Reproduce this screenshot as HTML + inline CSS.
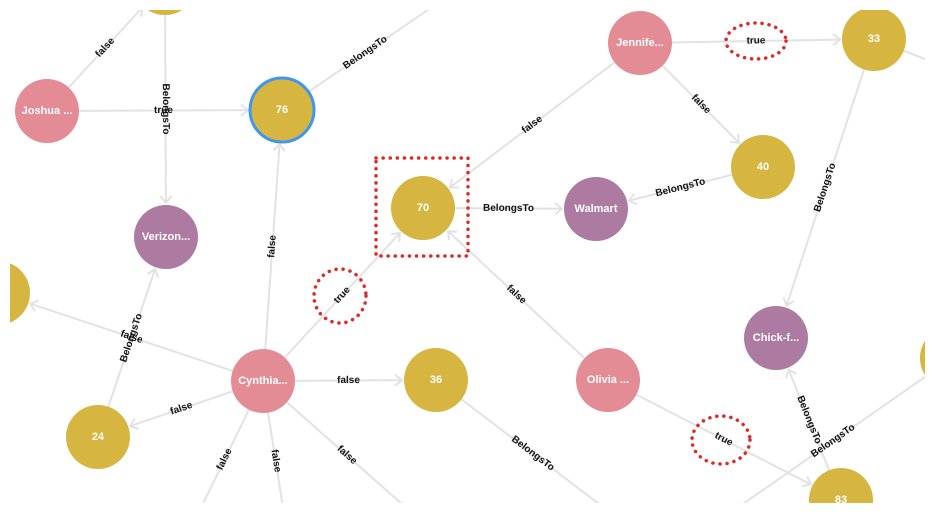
<!DOCTYPE html>
<html><head><meta charset="utf-8"><style>
html,body{margin:0;padding:0;background:#fff;width:935px;height:514px;overflow:hidden}
svg{display:block}
text{font-family:"Liberation Sans",Arial,sans-serif;font-weight:bold}
</style></head><body>
<svg id="s" width="935" height="514" viewBox="0 0 935 514">
<defs><clipPath id="c"><rect x="10" y="10" width="915" height="493"/></clipPath></defs>
<g id="g" clip-path="url(#c)"></g>
</svg>
<script>
const G='#D6B541',P='#E48C96',U='#AD7BA1';
const N={
top:[165,-17,G,''],jos:[47,111,P,'Joshua ...'],n76:[282,110,G,'76'],ver:[166,237,U,'Verizon...'],
n70:[423,208,G,'70'],wal:[596,209,U,'Walmart'],jen:[640,43,P,'Jennife...'],n33:[874,39,G,'33'],
n40:[763,167,G,'40'],chi:[776,338,U,'Chick-f...'],lg:[-2,293,G,''],cyn:[263,381,P,'Cynthia...'],
n36:[436,380,G,'36'],n24:[98,437,G,'24'],oli:[608,380,P,'Olivia ...'],n83:[841,500,G,'83'],rg:[952,358,G,'']};
const pts={a:[435,5],b:[195,520],c:[285,520],d:[420,520],e:[620,520],f:[940,65],g:[720,520]};
const E=[['jos','top','false',1],['top','ver','BelongsTo',1],['jos','n76','true',1],['n76','a','BelongsTo',0],
['cyn','n76','false',1],['cyn','n70','true',1],['cyn','lg','false',1],['n24','ver','BelongsTo',1],
['cyn','n24','false',1],['cyn','n36','false',1],['cyn','b','false',0],['cyn','c','false',0],['cyn','d','false',0],
['n36','e','BelongsTo',0],['jen','n70','false',1],['jen','n33','true',1],['jen','n40','false',1],
['n70','wal','BelongsTo',1],['n40','wal','BelongsTo',1],['n33','chi','BelongsTo',1],['n33','f','',0],
['oli','n70','false',1],['oli','n83','true',1],['n83','chi','BelongsTo',1],['rg','g','BelongsTo',0]];
const g=document.getElementById('g');let h='';const R=32;
function P_(k){return N[k]?N[k]:pts[k];}
let labels='';
for(const [a,b,l,arr] of E){
 const A=P_(a),B=P_(b);let dx=B[0]-A[0],dy=B[1]-A[1],L=Math.hypot(dx,dy),ux=dx/L,uy=dy/L;
 const x1=A[0]+ux*R,y1=A[1]+uy*R,x2=N[b]?B[0]-ux*(R+2):B[0],y2=N[b]?B[1]-uy*(R+2):B[1];
 h+=`<line x1="${x1}" y1="${y1}" x2="${x2}" y2="${y2}" stroke="#e2e2e2" stroke-width="2"/>`;
 if(arr){const s=7,px=-uy,py=ux;h+=`<polyline points="${x2-ux*s+px*s*0.8},${y2-uy*s+py*s*0.8} ${x2},${y2} ${x2-ux*s-px*s*0.8},${y2-uy*s-py*s*0.8}" fill="none" stroke="#e2e2e2" stroke-width="2"/>`;}
 if(l){let mx=(x1+x2)/2,my=(y1+y2)/2;if(!N[b]){mx=x1+(x2-x1)*0.45;my=y1+(y2-y1)*0.45;}
  let ang=Math.atan2(dy,dx)*180/Math.PI;if(ang>90)ang-=180;if(ang<-90)ang+=180;
  labels+=`<text x="${mx}" y="${my}" font-size="10" text-anchor="middle" dominant-baseline="central" transform="rotate(${ang} ${mx} ${my})" fill="#111">${l}</text>`;}
}
h+=labels;
for(const k in N){const [x,y,c,t]=N[k];
 h+=`<circle cx="${x}" cy="${y}" r="${R}" fill="${c}"${k=='n76'?' stroke="#3D97F0" stroke-width="3"':''}/>`;
 if(t)h+=`<text x="${x}" y="${y}" font-size="11" fill="#fff" text-anchor="middle" dominant-baseline="central">${t}</text>`;}
h+=`<rect x="376" y="158" width="92" height="98" fill="none" stroke="#e02828" stroke-width="3.5" stroke-dasharray="0.1 7" stroke-linecap="round"/>`;
h+=`<ellipse cx="340" cy="296" rx="26" ry="27" fill="none" stroke="#e02828" stroke-width="3.5" stroke-dasharray="0.1 7" stroke-linecap="round"/>`;
h+=`<ellipse cx="756" cy="41" rx="30" ry="18" fill="none" stroke="#e02828" stroke-width="3.5" stroke-dasharray="0.1 7" stroke-linecap="round"/>`;
h+=`<ellipse cx="721" cy="440" rx="29" ry="24" fill="none" stroke="#e02828" stroke-width="3.5" stroke-dasharray="0.1 7" stroke-linecap="round"/>`;
g.innerHTML=h;
</script>
</body></html>
